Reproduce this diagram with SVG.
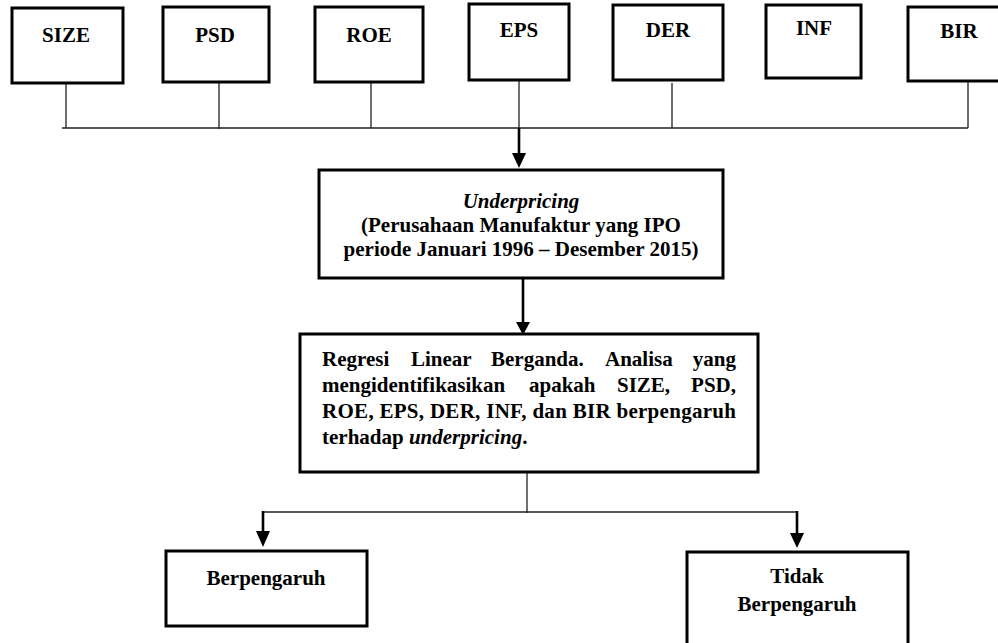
<svg xmlns="http://www.w3.org/2000/svg" width="998" height="643" viewBox="0 0 998 643">
<style>
.box{fill:#fff;stroke:#000;stroke-width:3}
text{font-family:'Liberation Serif','DejaVu Serif',serif;font-weight:bold;font-size:21px;fill:#000}
.c{text-anchor:middle}
.e{text-anchor:end}
.i{font-style:italic}
.thin{stroke:#222;stroke-width:1.3;fill:none}
.thick{stroke:#000;stroke-width:2.6;fill:none}
.head{fill:#000}
</style>
<rect width="998" height="643" fill="#fff"/>
<g id="connectors">
<path class="thin" d="M66 83V128M219 82V129M371 82V128M519 80V128M672 83V128M968 81V128M62 128H968"/>
<path class="thick" d="M519 128V154"/>
<polygon class="head" points="512,153 526,153 519,168"/>
<path class="thick" d="M523 278V323"/>
<polygon class="head" points="516,322 530,322 523,335"/>
<path class="thin" d="M527 472V513M263 512H797"/>
<path class="thick" d="M263 511V532M797 511V534"/>
<polygon class="head" points="256,531 270,531 263,547"/>
<polygon class="head" points="790,533 804,533 797,548"/>
</g>
<g font-family="Liberation Serif, DejaVu Serif, serif">
<g id="size"><rect class="box" x="12" y="8" width="111" height="75"/><text class="c" x="66" y="42">SIZE</text></g>
<g id="psd"><rect class="box" x="163" y="7" width="106" height="75"/><text class="c" x="215" y="42">PSD</text></g>
<g id="roe"><rect class="box" x="315" y="7" width="108" height="75"/><text class="c" x="369" y="42">ROE</text></g>
<g id="eps"><rect class="box" x="469" y="4" width="100" height="76"/><text class="c" x="519" y="37">EPS</text></g>
<g id="der"><rect class="box" x="613" y="5" width="110" height="75"/><text class="c" x="668" y="37">DER</text></g>
<g id="inf"><rect class="box" x="766" y="5" width="95" height="73"/><text class="c" x="814" y="35">INF</text></g>
<g id="bir"><rect class="box" x="908" y="7" width="100" height="74"/><text class="c" x="959" y="38">BIR</text></g>
<g id="underpricing">
<rect class="box" x="319" y="170" width="404" height="108"/>
<text class="c i" x="521" y="208">Underpricing</text>
<text class="c" x="521" y="232">(Perusahaan Manufaktur yang IPO</text>
<text class="c" x="521" y="256">periode Januari 1996 – Desember 2015)</text>
</g>
<g id="regresi">
<rect class="box" x="300" y="334" width="458" height="138"/>
<text y="366"><tspan x="322">Regresi</tspan><tspan x="411">Linear</tspan><tspan x="491">Berganda.</tspan><tspan x="605">Analisa</tspan></text>
<text class="e" x="736" y="366">yang</text>
<text y="392"><tspan x="322">mengidentifikasikan</tspan><tspan x="529">apakah</tspan><tspan x="617">SIZE,</tspan></text>
<text class="e" x="736" y="392">PSD,</text>
<text x="322" y="418" textLength="414" lengthAdjust="spacing">ROE, EPS, DER, INF, dan BIR berpengaruh</text>
<text x="322" y="444">terhadap <tspan class="i">underpricing</tspan>.</text>
</g>
<g id="berpengaruh"><rect class="box" x="166" y="551" width="201" height="75"/><text class="c" x="266" y="585">Berpengaruh</text></g>
<g id="tidak">
<rect class="box" x="687" y="552" width="221" height="100"/>
<text class="c" x="797" y="583">Tidak</text>
<text class="c" x="797" y="611">Berpengaruh</text>
</g>
</g>
</svg>
